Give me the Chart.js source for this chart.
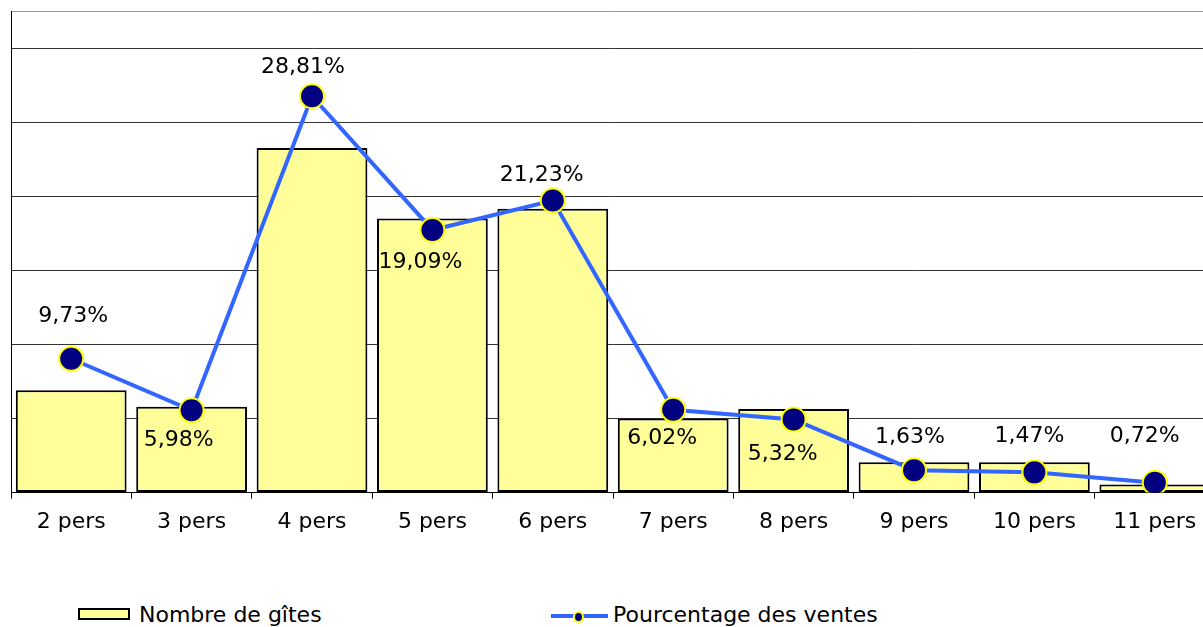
<!DOCTYPE html>
<html>
<head>
<meta charset="utf-8">
<script src="https://cdn.jsdelivr.net/npm/chart.js@4/dist/chart.umd.min.js"></script>
<style>
  html, body { margin: 0; padding: 0; background: #fff; width: 1203px; height: 627px; overflow: hidden; position: relative; }
  #wrap { position: absolute; left: -3px; top: -3px; width: 1232px; height: 548px; }
  .leg { position: absolute; font-family: "DejaVu Sans", Verdana, sans-serif; font-size: 22px; color: #000; line-height: 26px; white-space: nowrap; }
  .box { position: absolute; left: 78px; top: 608px; width: 48px; height: 8px; background: #FFFF99; border: 2px solid #000; }
  .lline { position: absolute; left: 551px; top: 614px; width: 57px; height: 4px; background: #3366FF; }
  .ldot { position: absolute; left: 573px; top: 611px; width: 7px; height: 8px; border-radius: 50%; background: #000080; border: 2px solid #FFFF00; }
</style>
</head>
<body>
<div id="wrap"><canvas id="c" width="1232" height="548"></canvas></div>
<div class="box"></div>
<div class="leg" style="left:139px; top:602px;">Nombre de gîtes</div>
<div class="lline"></div><div class="ldot"></div>
<div class="leg" style="left:613px; top:602px;">Pourcentage des ventes</div>
<script>
const categories = ["2 pers", "3 pers", "4 pers", "5 pers", "6 pers", "7 pers", "8 pers", "9 pers", "10 pers", "11 pers"];
const nombreGites = [13.8, 11.6, 46.5, 37, 38.3, 10, 11.3, 4.1, 4.1, 1.1];
const pourcentageVentes = [9.73, 5.98, 28.81, 19.09, 21.23, 6.02, 5.32, 1.63, 1.47, 0.72];
const seriesNames = ["Nombre de gîtes", "Pourcentage des ventes"];

// label placement offsets (dx, dy) relative to each point
const labelOffsets = [[2,-42],[-13,30],[-9,-29],[-12,32],[-11,-25],[-11,29],[-11,35],[-4,-33],[-5,-36],[-10,-46]];

const FONT = '"DejaVu Sans", Verdana, sans-serif';

const labelPlugin = {
  id: 'pctLabels',
  afterDatasetsDraw(chart) {
    const meta = chart.getDatasetMeta(1);
    const ctx = chart.ctx;
    ctx.save();
    ctx.font = '22px ' + FONT;
    ctx.fillStyle = '#000';
    ctx.textAlign = 'center';
    ctx.textBaseline = 'middle';
    meta.data.forEach((pt, i) => {
      const v = pourcentageVentes[i].toFixed(2).replace('.', ',') + '%';
      const o = labelOffsets[i];
      ctx.fillText(v, pt.x + o[0], pt.y + o[1]);
    });
    ctx.restore();
  }
};

new Chart(document.getElementById('c'), {
  data: {
    labels: categories,
    datasets: [
      {
        type: 'bar',
        label: seriesNames[0],
        data: nombreGites,
        backgroundColor: '#FFFF99',
        borderColor: '#000000',
        borderWidth: 2,
        borderSkipped: false,
        barPercentage: 0.92,
        categoryPercentage: 1,
        yAxisID: 'y',
        order: 2
      },
      {
        type: 'line',
        label: seriesNames[1],
        data: pourcentageVentes,
        borderColor: '#3366FF',
        borderWidth: 4,
        pointRadius: 12,
        pointBorderWidth: 2,
        pointBackgroundColor: '#000080',
        pointBorderColor: '#FFFF00',
        tension: 0,
        yAxisID: 'y2',
        order: 1
      }
    ]
  },
  options: {
    responsive: false,
    animation: false,
    devicePixelRatio: 1,
    layout: { padding: { left: 8, top: 7, right: 0, bottom: 0 } },
    plugins: { legend: { display: false }, tooltip: { enabled: false } },
    scales: {
      x: {
        offset: true,
        grid: { display: true, offset: true, drawOnChartArea: false, drawTicks: true, tickLength: 6, color: '#000', lineWidth: 1 },
        border: { display: true, color: '#000', width: 1 },
        ticks: { font: { family: FONT, size: 22 }, color: '#000', padding: 10, maxRotation: 0, autoSkip: false }
      },
      y: {
        position: 'left',
        min: 0, max: 65,
        ticks: { display: false, stepSize: 10 },
        grid: { drawTicks: false, color: (c) => (c.tick && c.tick.value === 65 ? '#999' : '#333'), lineWidth: 1 },
        border: { display: true, color: '#000', width: 1 }
      },
      y2: {
        position: 'right',
        display: false,
        min: 0, max: 35
      }
    }
  },
  plugins: [labelPlugin]
});
</script>
</body>
</html>
